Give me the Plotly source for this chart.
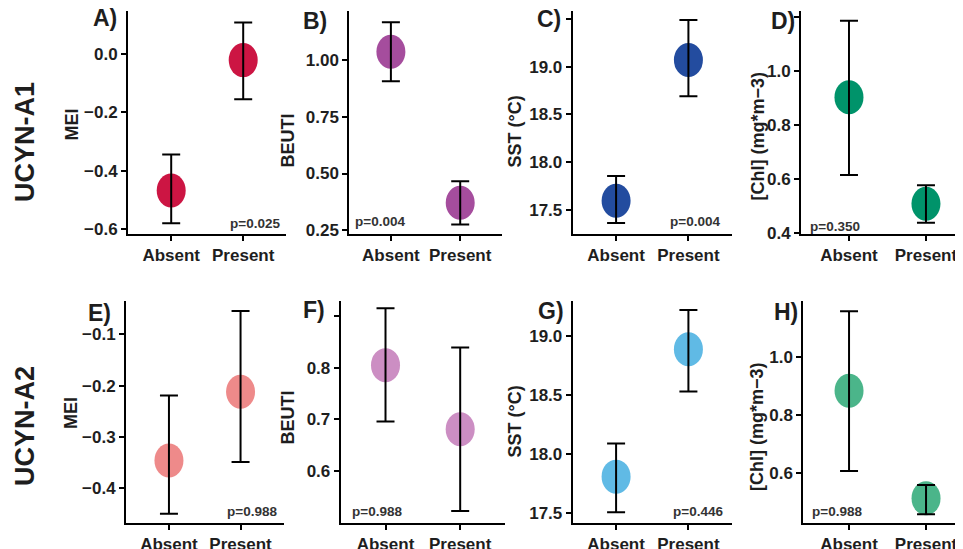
import plotly.graph_objects as go

PAGE_W, PAGE_H = 963, 549
OFF = 8  # default body margin of the html page
W, H = PAGE_W - OFF, PAGE_H - OFF

categories = ["Absent", "Present"]

# panel values: mean, lower, upper
mei_a1 = [-0.468, -0.021]
mei_a1_lo = [-0.581, -0.155]
mei_a1_hi = [-0.345, 0.108]

beuti_a1 = [1.038, 0.371]
beuti_a1_lo = [0.907, 0.275]
beuti_a1_hi = [1.168, 0.466]

sst_a1 = [17.594, 19.07]
sst_a1_lo = [17.36, 18.69]
sst_a1_hi = [17.854, 19.49]

chl_a1 = [0.903, 0.509]
chl_a1_lo = [0.616, 0.439]
chl_a1_hi = [1.186, 0.578]

mei_a2 = [-0.346, -0.212]
mei_a2_lo = [-0.450, -0.349]
mei_a2_hi = [-0.2195, -0.0546]

beuti_a2 = [0.805, 0.681]
beuti_a2_lo = [0.696, 0.523]
beuti_a2_hi = [0.915, 0.839]

sst_a2 = [17.81, 18.887]
sst_a2_lo = [17.508, 18.531]
sst_a2_hi = [18.09, 19.22]

chl_a2 = [0.885, 0.514]
chl_a2_lo = [0.608, 0.459]
chl_a2_hi = [1.159, 0.560]

p_values = ["p=0.025", "p=0.004", "p=0.004", "p=0.350",
            "p=0.988", "p=0.988", "p=0.446", "p=0.988"]
tags = ["A)", "B)", "C)", "D)", "E)", "F)", "G)", "H)"]
y_titles = ["MEI", "BEUTI", "SST (°C)", "[Chl] (mg*m−3)"] * 2
row_labels = ["UCYN-A1", "UCYN-A2"]

ticks = [
    ([0.0, -0.2, -0.4, -0.6], ["0.0", "−0.2", "−0.4", "−0.6"]),
    ([1.0, 0.75, 0.5, 0.25], ["1.00", "0.75", "0.50", "0.25"]),
    ([19.5, 19.0, 18.5, 18.0, 17.5], ["", "19.0", "18.5", "18.0", "17.5"]),
    ([1.2, 1.0, 0.8, 0.6, 0.4], ["", "1.0", "0.8", "0.6", "0.4"]),
    ([-0.1, -0.2, -0.3, -0.4], ["−0.1", "−0.2", "−0.3", "−0.4"]),
    ([0.9, 0.8, 0.7, 0.6], ["", "0.8", "0.7", "0.6"]),
    ([19.0, 18.5, 18.0, 17.5], ["19.0", "18.5", "18.0", "17.5"]),
    ([1.0, 0.8, 0.6], ["1.0", "0.8", "0.6"]),
]

colors = ["#CC1543", "#A54D9D", "#234C9F", "#00936A",
          "#EE8A8A", "#CC8EC3", "#60BAE5", "#4BB58A"]

panels = [
    (mei_a1, mei_a1_lo, mei_a1_hi),
    (beuti_a1, beuti_a1_lo, beuti_a1_hi),
    (sst_a1, sst_a1_lo, sst_a1_hi),
    (chl_a1, chl_a1_lo, chl_a1_hi),
    (mei_a2, mei_a2_lo, mei_a2_hi),
    (beuti_a2, beuti_a2_lo, beuti_a2_hi),
    (sst_a2, sst_a2_lo, sst_a2_hi),
    (chl_a2, chl_a2_lo, chl_a2_hi),
]

# layout (page pixels)
x_dom_px = [(128, 286.4), (349.3, 501.8), (572.7, 731.8), (801, 963),
            (126, 283.5), (340.7, 505), (572.7, 731.8), (803.3, 963)]
x_ranges = [(-0.6, 1.6), (-0.6, 1.6), (-0.6, 1.6), (-0.623, 1.481),
            (-0.6, 1.6), (-0.6, 1.6), (-0.6, 1.6), (-0.594, 1.480)]
y_dom_px = [(11, 233.5)] * 4 + [(300.5, 522.5)] * 4
y_ranges = [(-0.6158, 0.1475), (0.235, 1.2178), (17.250, 19.584), (0.3993, 1.222),
            (-0.4669, -0.0341), (0.5006, 0.930), (17.422, 19.300), (0.4303, 1.196)]

tag_pos = [(105, 18), (315, 21), (549, 19), (783, 21),
           (99, 313), (314, 310), (551, 311), (786, 312)]
ytitle_pos = [(71.5, 124), (287.5, 141), (514.5, 131), (757.5, 136),
              (71, 413), (287.5, 418), (514.5, 421), (757, 427)]
p_pos = [(255, 224), (380, 221), (695, 221), (835, 226),
         (252, 511), (377, 511), (698, 511), (837, 511)]
row_pos = [(25, 142), (25, 426)]


def fx(px):
    return (px - OFF) / W


def fy(py):
    return 1 - (py - OFF) / H


FONT = "Liberation Sans"
TXT = "#1e1e1e"

fig = go.Figure()
shapes = []
annotations = []
layout = {}

for i, ((mean, lo, hi), col) in enumerate(zip(panels, colors)):
    n = "" if i == 0 else str(i + 1)
    xa, ya = "x" + n, "y" + n
    xs = [categories.index(c) for c in categories]
    fig.add_trace(go.Scatter(
        x=xs, y=mean, mode="markers", xaxis=xa, yaxis=ya,
        marker=dict(size=1, color="rgba(0,0,0,0)"),
        error_y=dict(type="data", symmetric=False,
                     array=[h - m for h, m in zip(hi, mean)],
                     arrayminus=[m - l for m, l in zip(mean, lo)],
                     color="black", thickness=2, width=9),
        showlegend=False, hoverinfo="skip"))
    for xv, m in zip(xs, mean):
        shapes.append(dict(type="circle", xref=xa, yref=ya,
                           xsizemode="pixel", ysizemode="pixel",
                           xanchor=xv, yanchor=m,
                           x0=-14.5, x1=14.5, y0=-17, y1=17,
                           fillcolor=col, line=dict(width=0), layer="below"))
    x0, x1 = x_dom_px[i]
    y0, y1 = y_dom_px[i]
    layout["xaxis" + n] = dict(
        domain=[max(0, fx(x0)), min(1, fx(x1))], range=list(x_ranges[i]), anchor=ya,
        tickvals=xs, ticktext=categories, showline=True, linecolor="black",
        linewidth=2, ticks="outside", ticklen=5, tickwidth=1.5, tickcolor="black",
        showgrid=False, zeroline=False, fixedrange=True, automargin=False,
        tickfont=dict(family=FONT, size=17, color=TXT, weight="bold"))
    tv, tt = ticks[i]
    layout["yaxis" + n] = dict(
        domain=[fy(y1), fy(y0)], range=list(y_ranges[i]), anchor=xa,
        tickvals=tv, ticktext=tt, showline=True, linecolor="black",
        linewidth=2, ticks="outside", ticklen=5, tickwidth=1.5, tickcolor="black",
        showgrid=False, zeroline=False, fixedrange=True, automargin=False,
        tickfont=dict(family=FONT, size=17, color=TXT, weight="bold"))
    tx, ty = tag_pos[i]
    annotations.append(dict(text=tags[i], x=fx(tx), y=fy(ty), xref="paper", yref="paper",
                            showarrow=False, xanchor="center", yanchor="middle",
                            font=dict(family=FONT, size=23, color=TXT, weight="bold")))
    tx, ty = ytitle_pos[i]
    annotations.append(dict(text=y_titles[i], x=fx(tx), y=fy(ty), xref="paper", yref="paper",
                            showarrow=False, xanchor="center", yanchor="middle", textangle=-90,
                            font=dict(family=FONT, size=18, color=TXT, weight="bold")))
    tx, ty = p_pos[i]
    annotations.append(dict(text=p_values[i], x=fx(tx), y=fy(ty), xref="paper", yref="paper",
                            showarrow=False, xanchor="center", yanchor="middle",
                            font=dict(family=FONT, size=13.5, color="#333333", weight="bold")))

for lab, (tx, ty) in zip(row_labels, row_pos):
    annotations.append(dict(text=lab, x=fx(tx), y=fy(ty), xref="paper", yref="paper",
                            showarrow=False, xanchor="center", yanchor="middle", textangle=-90,
                            font=dict(family=FONT, size=27, color=TXT, weight="bold")))

fig.update_layout(template="none", width=W, height=H,
                  margin=dict(l=0, r=0, t=0, b=0, autoexpand=False),
                  paper_bgcolor="white", plot_bgcolor="rgba(0,0,0,0)",
                  shapes=shapes, annotations=annotations, showlegend=False, **layout)

fig.write_html("out.html")
